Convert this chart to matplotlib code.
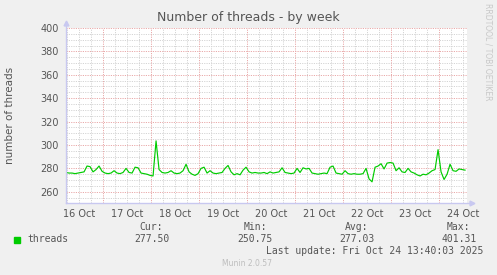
import numpy as np
import matplotlib
matplotlib.use("Agg")
import matplotlib.pyplot as plt

# one sample every 1.5 h, day numbers in October (label "16 Oct" sits on 16.0)
t_start = 15.72
t_step = 0.0625
threads = [
    276.5, 276, 276, 275.5, 276, 276.5, 277, 282, 281.5, 277,
    279, 282, 277.5, 276, 275.5, 276, 278, 276, 275.5, 276.5,
    280, 276.5, 276, 281, 280.5, 276, 275.5, 275, 274, 273.5,
    303.5, 279, 276.5, 276, 276.5, 278, 276, 275.5, 276, 278,
    283.5, 277, 275, 274, 275.5, 280, 281, 276, 278, 276,
    275.5, 276, 276.5, 280, 282.5, 277, 274.5, 275.5, 274.5, 278.5,
    281, 277, 276, 276.5, 276, 276, 276.5, 275.5, 277, 276,
    276.5, 277, 280.5, 276.5, 276, 275.5, 276, 280, 276.5, 280.5,
    279.5, 280, 276, 275.5, 275, 275.5, 276, 275.5, 281, 282,
    276, 275.5, 275, 278, 275.5, 275, 275.5, 275, 275, 275.5,
    280, 271, 268.5, 281, 282, 284, 279.5, 284.5, 285, 284.5,
    278, 280.5, 277, 276.5, 280, 277, 276, 274.5, 273.5, 275,
    274.5, 276, 278, 279, 296, 277, 270.5, 275, 283.5, 278,
    277.5, 279.5, 279, 278.5,
]
days = [16, 17, 18, 19, 20, 21, 22, 23, 24]
day_labels = ["16 Oct", "17 Oct", "18 Oct", "19 Oct", "20 Oct",
              "21 Oct", "22 Oct", "23 Oct", "24 Oct"]
y_ticks = [260, 280, 300, 320, 340, 360, 380, 400]
stats_head = ["Cur:", "Min:", "Avg:", "Max:"]
stats_vals = ["277.50", "250.75", "277.03", "401.31"]

t = t_start + t_step * np.arange(len(threads))

W, H = 497, 275
fig = plt.figure(figsize=(W / 100, H / 100), dpi=100, facecolor="#F0F0F0")
ax = fig.add_axes([66 / W, 1 - 203 / H, 401 / W, 175 / H], facecolor="white")

x0, x1 = 15.719, 24.073
ax.set_xlim(x0, x1)
ax.set_ylim(250.4, 400)

grey = "#D4D4D4"
red = "#E9A9A9"
dots = (0, (1.2, 1.2))

# minor grid
for v in np.arange(255, 401, 5):
    if v % 20:
        ax.axhline(v, color=grey, lw=0.7, ls=dots, zorder=1)
for v in np.arange(15.75, x1, 0.25):
    if abs(v - round(v) - 0.5) > 0.01 and abs(v - round(v) + 0.5) > 0.01:
        ax.axvline(v, color=grey, lw=0.7, ls=dots, zorder=1)
# major grid
for v in y_ticks:
    ax.axhline(v, color=red, lw=0.7, ls=dots, zorder=2)
for d in days[:-1]:
    ax.axvline(d + 0.5, color=red, lw=0.7, ls=dots, zorder=2)

ax.plot(t, threads, color="#00CC00", lw=0.85, zorder=3)

for s in ax.spines.values():
    s.set_visible(False)
axis_col = "#C8C8F0"
ax.plot([0, 0], [0, 1.03], transform=ax.transAxes, color=axis_col, lw=1, clip_on=False, zorder=4)
ax.plot([0, 1.012], [0, 0], transform=ax.transAxes, color=axis_col, lw=1, clip_on=False, zorder=4)
ax.plot([0], [1.03], marker="^", ms=3.5, color=axis_col, transform=ax.transAxes, clip_on=False)
ax.plot([1.012], [0], marker=">", ms=3.5, color=axis_col, transform=ax.transAxes, clip_on=False)

ax.set_yticks(y_ticks)
ax.set_yticklabels([str(v) for v in y_ticks])
ax.set_xticks(days)
ax.set_xticklabels(day_labels)
ax.tick_params(length=0, labelsize=7, colors="#555555", pad=5)
ax.tick_params(axis="x", pad=4)

fig.text(248 / W, 1 - 18 / H, "Number of threads - by week", ha="center", va="center",
         fontsize=9, color="#555555")
fig.text(10 / W, 1 - 115 / H, "number of threads", rotation=90, ha="center", va="center",
         fontsize=7.5, color="#555555")
fig.text(488 / W, 1 - 52 / H, "RRDTOOL / TOBI OETIKER", rotation=270, ha="center", va="center",
         fontsize=5.5, color="#C8C8C8")

mono = dict(family="DejaVu Sans Mono", fontsize=7, color="#555555", va="center")
fig.patches.append(plt.Rectangle((14 / W, 1 - 243 / H), 6 / W, 6 / H, transform=fig.transFigure,
                                 color="#00CC00", figure=fig))
fig.text(27 / W, 1 - 239.5 / H, "threads", ha="left", **mono)
head_right = [163, 267, 368, 470]
val_right = [170, 273, 375, 477]
for h, v, hr, vr in zip(stats_head, stats_vals, head_right, val_right):
    fig.text(hr / W, 1 - 227 / H, h, ha="right", **mono)
    fig.text(vr / W, 1 - 239.5 / H, v, ha="right", **mono)
fig.text(483 / W, 1 - 251.5 / H, "Last update: Fri Oct 24 13:40:03 2025", ha="right", **mono)
fig.text(247 / W, 1 - 263.5 / H, "Munin 2.0.57", ha="center", va="center",
         fontsize=5.5, color="#BDBDBD")

fig.savefig("out.png", dpi=100, facecolor=fig.get_facecolor())
